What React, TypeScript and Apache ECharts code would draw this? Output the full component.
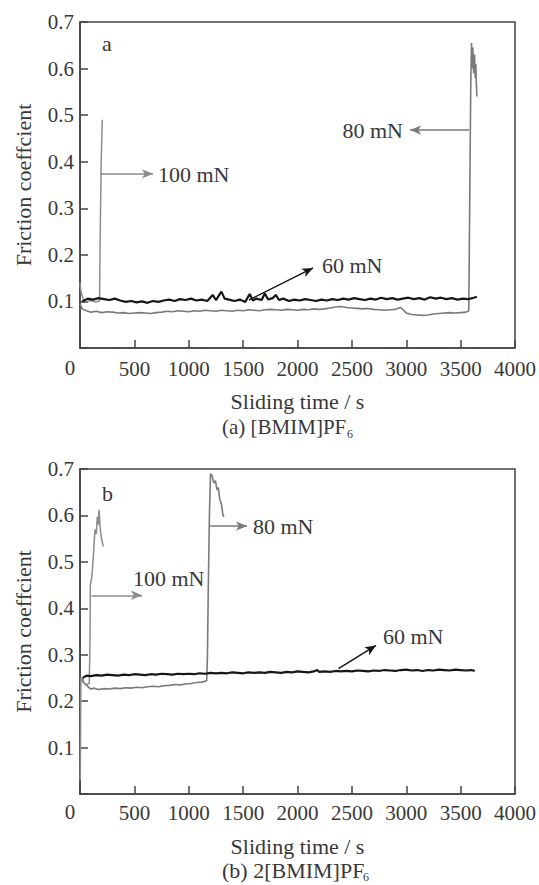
import React, { useEffect, useRef } from "react";
import * as echarts from "echarts";

// ---------- tick labels ----------
const xTicks = [0, 500, 1000, 1500, 2000, 2500, 3000, 3500, 4000];
const yTicks = [0.1, 0.2, 0.3, 0.4, 0.5, 0.6, 0.7];

// ---------- (a) [BMIM]PF6 ----------
const a60: [number, number][] = [
  [20, 0.1], [70, 0.106], [120, 0.104], [170, 0.107], [220, 0.105], [270, 0.103], [320, 0.106],
  [370, 0.102], [420, 0.099], [470, 0.101], [520, 0.098], [570, 0.1], [620, 0.097], [670, 0.101],
  [720, 0.099], [770, 0.102], [820, 0.104], [870, 0.101], [920, 0.105], [970, 0.103], [1020, 0.106],
  [1070, 0.102], [1120, 0.104], [1170, 0.101], [1220, 0.114], [1250, 0.103], [1300, 0.121],
  [1330, 0.106], [1370, 0.104], [1420, 0.101], [1470, 0.104], [1520, 0.099], [1560, 0.116],
  [1590, 0.102], [1620, 0.106], [1670, 0.103], [1700, 0.117], [1730, 0.104], [1770, 0.107],
  [1800, 0.114], [1830, 0.103], [1870, 0.106], [1920, 0.101], [1970, 0.104], [2020, 0.102],
  [2070, 0.105], [2120, 0.103], [2170, 0.101], [2220, 0.104], [2270, 0.102], [2320, 0.105],
  [2370, 0.103], [2420, 0.106], [2470, 0.104], [2520, 0.107], [2570, 0.105], [2620, 0.103],
  [2670, 0.106], [2720, 0.104], [2770, 0.108], [2820, 0.105], [2870, 0.107], [2920, 0.104],
  [2970, 0.106], [3020, 0.108], [3070, 0.105], [3120, 0.107], [3170, 0.104], [3220, 0.109],
  [3270, 0.106], [3320, 0.108], [3370, 0.105], [3420, 0.107], [3470, 0.104], [3520, 0.106],
  [3570, 0.105], [3620, 0.108], [3650, 0.11],
];
const a80: [number, number][] = [
  [0, 0.095], [20, 0.084], [60, 0.08], [100, 0.077], [150, 0.079], [200, 0.076], [250, 0.078],
  [300, 0.077], [350, 0.075], [400, 0.076], [450, 0.074], [500, 0.075], [550, 0.076], [600, 0.075],
  [650, 0.074], [700, 0.076], [750, 0.077], [800, 0.079], [850, 0.078], [900, 0.08], [950, 0.079],
  [1000, 0.078], [1050, 0.08], [1100, 0.079], [1150, 0.081], [1200, 0.08], [1250, 0.079],
  [1300, 0.081], [1350, 0.08], [1400, 0.079], [1450, 0.081], [1500, 0.08], [1550, 0.082],
  [1600, 0.081], [1650, 0.08], [1700, 0.082], [1750, 0.083], [1800, 0.082], [1850, 0.081],
  [1900, 0.083], [1950, 0.082], [2000, 0.081], [2050, 0.083], [2100, 0.082], [2150, 0.084],
  [2200, 0.083], [2250, 0.084], [2300, 0.086], [2350, 0.088], [2400, 0.089], [2450, 0.087],
  [2500, 0.086], [2550, 0.085], [2600, 0.084], [2650, 0.085], [2700, 0.083], [2750, 0.082],
  [2800, 0.081], [2850, 0.082], [2900, 0.083], [2950, 0.087], [2980, 0.08], [3000, 0.075],
  [3050, 0.072], [3100, 0.071], [3150, 0.07], [3200, 0.071], [3250, 0.073], [3300, 0.074],
  [3350, 0.075], [3400, 0.076], [3450, 0.075], [3500, 0.076], [3550, 0.077], [3575, 0.08],
  [3585, 0.35], [3593, 0.56], [3600, 0.655], [3606, 0.6], [3612, 0.645], [3620, 0.59],
  [3628, 0.63], [3634, 0.58], [3640, 0.61], [3644, 0.57], [3647, 0.555], [3649, 0.54],
];
const a100: [number, number][] = [
  [0, 0.14], [10, 0.12], [30, 0.105], [60, 0.1], [100, 0.102], [140, 0.099], [180, 0.101],
  [186, 0.25], [195, 0.4], [205, 0.49],
];

// ---------- (b) 2[BMIM]PF6 ----------
const b60: [number, number][] = [
  [25, 0.25], [60, 0.255], [100, 0.254], [150, 0.256], [200, 0.255],
  [250, 0.257], [300, 0.256], [350, 0.255], [400, 0.257], [450, 0.256], [500, 0.258], [550, 0.257],
  [600, 0.256], [650, 0.258], [700, 0.257], [750, 0.259], [800, 0.258], [850, 0.257], [900, 0.259],
  [950, 0.258], [1000, 0.259], [1050, 0.258], [1100, 0.26], [1150, 0.259], [1200, 0.261],
  [1250, 0.26], [1300, 0.261], [1350, 0.26], [1400, 0.262], [1450, 0.261], [1500, 0.26],
  [1550, 0.262], [1600, 0.261], [1650, 0.262], [1700, 0.261], [1750, 0.263], [1800, 0.262],
  [1850, 0.261], [1900, 0.263], [1950, 0.262], [2000, 0.264], [2050, 0.263], [2100, 0.262],
  [2150, 0.264], [2180, 0.267], [2200, 0.263], [2250, 0.264], [2300, 0.263], [2350, 0.265],
  [2400, 0.264], [2450, 0.265], [2500, 0.264], [2550, 0.266], [2600, 0.265], [2650, 0.264],
  [2700, 0.266], [2750, 0.265], [2800, 0.267], [2850, 0.266], [2900, 0.265], [2950, 0.267],
  [3000, 0.268], [3050, 0.266], [3100, 0.267], [3150, 0.265], [3200, 0.267], [3250, 0.266],
  [3300, 0.268], [3350, 0.267], [3400, 0.266], [3450, 0.268], [3500, 0.267], [3550, 0.266],
  [3600, 0.267], [3630, 0.265],
];
const b80: [number, number][] = [
  [0, 0.245], [20, 0.25], [40, 0.238], [70, 0.232], [100, 0.226], [130, 0.228], [170, 0.225],
  [220, 0.227], [270, 0.226], [320, 0.228], [370, 0.227], [420, 0.229], [470, 0.228], [520, 0.23],
  [570, 0.229], [620, 0.231], [670, 0.232], [720, 0.231], [770, 0.233], [820, 0.234], [870, 0.236],
  [920, 0.235], [970, 0.237], [1020, 0.238], [1070, 0.24], [1120, 0.241], [1165, 0.244],
  [1172, 0.3], [1180, 0.45], [1190, 0.6], [1200, 0.69], [1215, 0.685], [1230, 0.67], [1245, 0.675],
  [1260, 0.655], [1272, 0.66], [1285, 0.635], [1300, 0.625], [1315, 0.6], [1325, 0.597],
];
const b100: [number, number][] = [
  [3, 0.03], [8, 0.25], [30, 0.24], [60, 0.236], [85, 0.238], [92, 0.33], [95, 0.45], [110, 0.47],
  [122, 0.51], [138, 0.57], [150, 0.56], [159, 0.597], [168, 0.58], [175, 0.612], [184, 0.576],
  [192, 0.56], [200, 0.547], [214, 0.533],
];

// arrows (data coordinates): [start, end]
const arrowsA = {
  a100: [[184, 0.374], [671, 0.374]],
  a80: [[3577, 0.468], [3035, 0.468]],
  a60: [[1554, 0.103], [2143, 0.172]],
};
const arrowsB = {
  b100: [[105, 0.428], [570, 0.428]],
  b80: [[1195, 0.577], [1536, 0.577]],
  b60: [[2377, 0.27], [2722, 0.32]],
};

const FONT = "'Liberation Serif', 'Times New Roman', serif";
const TXT = "#383838";
const AX = "#444";
const BLACK = "#161616";
const GRAY1 = "#7a7a7a";
const GRAY2 = "#8c8c8c";

export default function App() {
  const ref = useRef<HTMLDivElement>(null);
  useEffect(() => {
    if (!ref.current) return;
    const chart = echarts.init(ref.current, null, { renderer: "svg" });

    const xAxisBase = (gridIndex: number, margin: number, nameGap: number) => ({
      type: "value",
      gridIndex,
      min: 0,
      max: 4000,
      interval: 500,
      name: "Sliding time / s",
      nameLocation: "middle",
      nameGap,
      nameTextStyle: { fontFamily: FONT, fontSize: 22, color: TXT },
      axisLine: { show: true, lineStyle: { color: AX, width: 1.5 } },
      axisTick: { show: true, inside: true, length: 8, lineStyle: { color: AX, width: 1.5 } },
      axisLabel: {
        margin,
        fontFamily: FONT,
        fontSize: 21,
        color: TXT,
        formatter: (v: number) => (v === 0 || xTicks.indexOf(v) < 0 ? "" : String(v)),
      },
      splitLine: { show: false },
    });
    const yAxisBase = (gridIndex: number) => ({
      type: "value",
      gridIndex,
      min: 0,
      max: 0.7,
      interval: 0.1,
      name: "Friction coeffcient",
      nameLocation: "middle",
      nameGap: 46,
      nameTextStyle: { fontFamily: FONT, fontSize: 22, color: TXT },
      axisLine: { show: true, lineStyle: { color: AX, width: 1.5 } },
      axisTick: { show: true, inside: true, length: 8, lineStyle: { color: AX, width: 1.5 } },
      axisLabel: {
        margin: 6,
        fontFamily: FONT,
        fontSize: 21,
        color: TXT,
        formatter: (v: number) => {
          const s = v.toFixed(1);
          return yTicks.some((t) => t.toFixed(1) === s) ? s : "";
        },
      },
      splitLine: { show: false },
    });

    const arrow = (coords: number[][], color: string, width: number) => ({
      silent: true,
      symbol: ["none", "arrow"],
      symbolSize: [7, 11],
      label: { show: false },
      lineStyle: { color, width, type: "solid" },
      data: [[{ coord: coords[0] }, { coord: coords[1] }]],
    });

    const line = (
      name: string,
      data: [number, number][],
      idx: number,
      color: string,
      width: number,
      arr: number[][]
    ) => ({
      type: "line",
      name,
      xAxisIndex: idx,
      yAxisIndex: idx,
      data,
      showSymbol: false,
      symbol: "none",
      lineStyle: { color, width },
      itemStyle: { color },
      markLine: arrow(arr, color, 1.5),
    });

    const txt = (x: number, y: number, text: string, align = "left", size = 22) => ({
      type: "text",
      x,
      y,
      style: {
        text,
        fontFamily: FONT,
        fontSize: size,
        fill: TXT,
        textAlign: align,
        textVerticalAlign: "middle",
      },
    });

    chart.setOption({
      animation: false,
      backgroundColor: "#fff",
      grid: [
        { left: 80, top: 22, width: 435, height: 326, show: true, borderColor: AX, borderWidth: 1.5 },
        { left: 80, top: 469, width: 435, height: 325, show: true, borderColor: AX, borderWidth: 1.5 },
      ],
      xAxis: [xAxisBase(0, 10, 42), xAxisBase(1, 8, 41)],
      yAxis: [yAxisBase(0), yAxisBase(1)],
      series: [
        line("80 mN (a)", a80, 0, GRAY1, 1.6, arrowsA.a80),
        line("100 mN (a)", a100, 0, GRAY2, 1.5, arrowsA.a100),
        line("60 mN (a)", a60, 0, BLACK, 2.2, arrowsA.a60),
        line("80 mN (b)", b80, 1, GRAY1, 1.6, arrowsB.b80),
        line("100 mN (b)", b100, 1, GRAY2, 1.5, arrowsB.b100),
        line("60 mN (b)", b60, 1, BLACK, 2.2, arrowsB.b60),
      ],
      graphic: [
        txt(102, 43, "a"),
        txt(102, 493, "b"),
        txt(70, 368, "0", "center", 21),
        txt(70, 812, "0", "center", 21),
        txt(158, 174, "100 mN"),
        txt(403, 130, "80 mN", "right"),
        txt(322, 265, "60 mN"),
        txt(133, 578, "100 mN"),
        txt(253, 526, "80 mN"),
        txt(383, 636, "60 mN"),
        txt(222, 427, "(a) [BMIM]PF", "left", 21),
        txt(347, 434, "6", "left", 12),
        txt(222, 870, "(b) 2[BMIM]PF", "left", 22),
        txt(363, 877, "6", "left", 12),
      ],
    });
    return () => chart.dispose();
  }, []);
  return (
    <div
      ref={ref}
      style={{ position: "fixed", left: 0, top: 0, width: 539, height: 885, background: "#fff" }}
    />
  );
}
